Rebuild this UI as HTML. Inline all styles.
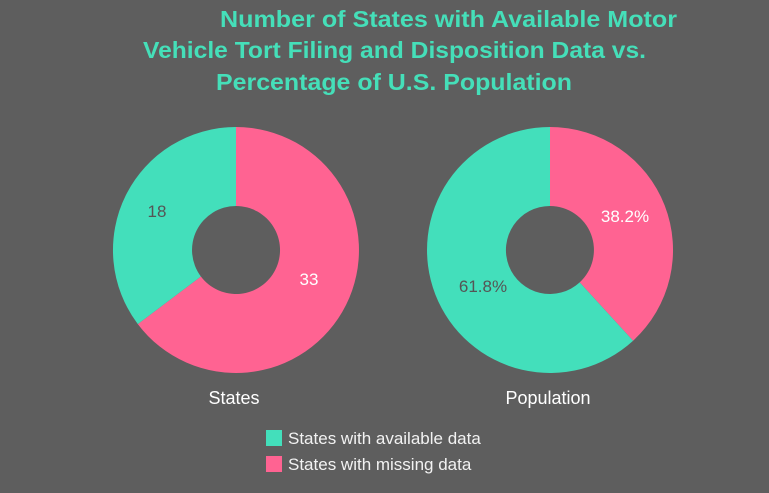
<!DOCTYPE html>
<html><head><meta charset="utf-8"><style>
html,body{margin:0;padding:0;background:#5e5e5e;}
svg{display:block;}
</style></head><body>
<svg width="769" height="493" viewBox="0 0 769 493" xmlns="http://www.w3.org/2000/svg">
<rect width="769" height="493" fill="#5e5e5e"/>
<g font-family="Liberation Sans, sans-serif" font-weight="bold" font-size="23" fill="#45dfb9">
<text x="220" y="27" textLength="457" lengthAdjust="spacingAndGlyphs">Number of States with Available Motor</text>
<text x="143" y="58" textLength="503" lengthAdjust="spacingAndGlyphs">Vehicle Tort Filing and Disposition Data vs.</text>
<text x="216" y="90" textLength="356" lengthAdjust="spacingAndGlyphs">Percentage of U.S. Population</text>
</g>
<path d="M236,127 A123,123 0 1,1 137.8,324.1 L200.9,276.5 A44,44 0 1,0 236,206 Z" fill="#ff6392"/>
<path d="M236,127 A123,123 0 0,0 137.8,324.1 L200.9,276.5 A44,44 0 0,1 236,206 Z" fill="#43dfbb"/>
<path d="M550,127 A123,123 0 0,1 633.1,340.7 L579.7,282.4 A44,44 0 0,0 550,206 Z" fill="#ff6392"/>
<path d="M550,127 A123,123 0 1,0 633.1,340.7 L579.7,282.4 A44,44 0 1,1 550,206 Z" fill="#43dfbb"/>
<g font-family="Liberation Sans, sans-serif" font-size="17">
<text x="157" y="217" text-anchor="middle" fill="#555">18</text>
<text x="309" y="285" text-anchor="middle" fill="#fff">33</text>
<text x="625" y="222" text-anchor="middle" fill="#fff">38.2%</text>
<text x="483" y="292" text-anchor="middle" fill="#555">61.8%</text>
</g>
<g font-family="Liberation Sans, sans-serif" font-size="18" fill="#fff">
<text x="234" y="404" text-anchor="middle">States</text>
<text x="548" y="404" text-anchor="middle">Population</text>
</g>
<rect x="266" y="430" width="16" height="16" fill="#43dfbb"/>
<rect x="266" y="456" width="16" height="16" fill="#ff6392"/>
<g font-family="Liberation Sans, sans-serif" font-size="17" fill="#f2f2f2">
<text x="288" y="444">States with available data</text>
<text x="288" y="470">States with missing data</text>
</g>
</svg>
</body></html>
